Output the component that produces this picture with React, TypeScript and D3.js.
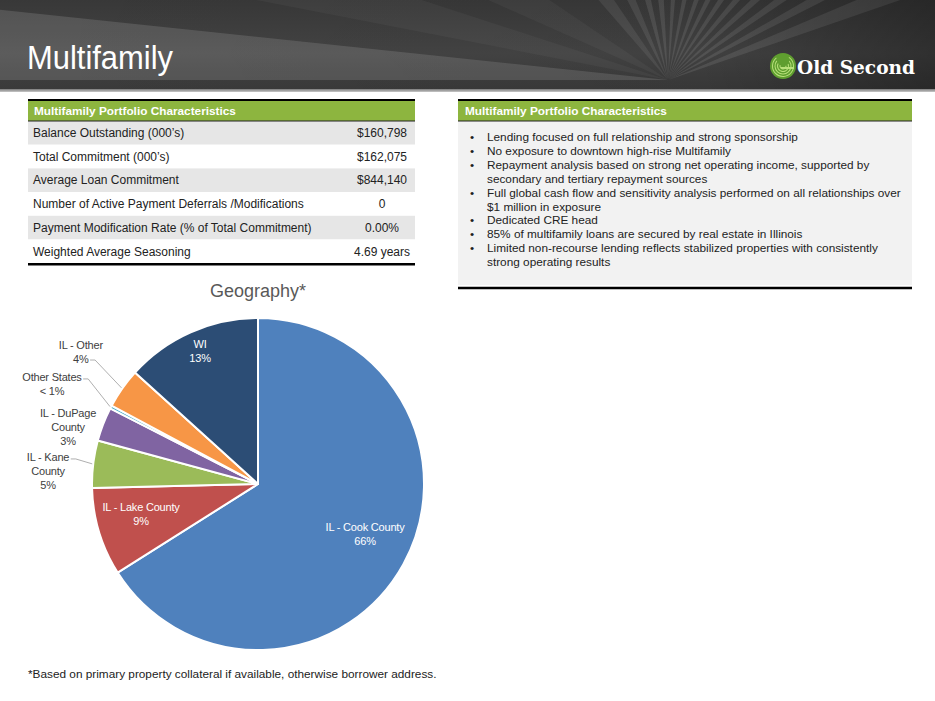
import React, { useEffect, useRef } from 'react';
import * as d3 from 'd3';

// ---------- data ----------
const geoCategories = ['IL - Cook County', 'IL - Lake County', 'IL - Kane County', 'IL - DuPage County', 'Other States', 'IL - Other', 'WI'];
const geoValues = [66.1, 8.6, 4.6, 3.3, 0.3, 3.9, 13.3];
const geoLabelLines = [
  ['IL - Cook County', '66%'],
  ['IL - Lake County', '9%'],
  ['IL - Kane', 'County', '5%'],
  ['IL - DuPage', 'County', '3%'],
  ['Other States', '< 1%'],
  ['IL - Other', '4%'],
  ['WI', '13%'],
];
const geoColors = ['#4F81BD', '#C0504D', '#9BBB59', '#8064A2', '#4BACC6', '#F79646', '#2C4D75'];

const tableTitle = 'Multifamily Portfolio Characteristics';
const tableLabels = [
  'Balance Outstanding (000\u2019s)',
  'Total Commitment (000\u2019s)',
  'Average Loan Commitment',
  'Number of Active Payment Deferrals /Modifications',
  'Payment Modification Rate (% of Total Commitment)',
  'Weighted Average Seasoning',
];
const tableValues = ['$160,798', '$162,075', '$844,140', '0', '0.00%', '4.69 years'];

const bulletTitle = 'Multifamily Portfolio Characteristics';
const bulletItems = [
  ['Lending focused on full relationship and strong sponsorship'],
  ['No exposure to downtown high-rise Multifamily'],
  ['Repayment analysis based on strong net operating income, supported by', 'secondary and tertiary repayment sources'],
  ['Full global cash flow and sensitivity analysis performed on all relationships over', '$1 million in exposure'],
  ['Dedicated CRE head'],
  ['85% of multifamily loans are secured by real estate in Illinois'],
  ['Limited non-recourse lending reflects stabilized properties with consistently', 'strong operating results'],
];

const pageTitle = 'Multifamily';
const chartTitle = 'Geography*';
const footnote = '*Based on primary property collateral if available, otherwise borrower address.';
const logoText = 'Old Second';

// ---------- layout (not data) ----------
const W = 935;
const H = 701;
const FONT = "'Liberation Sans', Arial, sans-serif";
const pieCx = 258;
const pieCy = 484;
const pieR = 166;
const labelLayout = [
  { r: 119.5, dx: 2.4, dy: -7.7, inside: true, leader: -1 },
  { r: 119.5, dx: -2.6, dy: -4.5, inside: true, leader: -1 },
  { r: 212, dx: 0.5, dy: 13, inside: false, leader: 0 },
  { r: 200, dx: -3.4, dy: 15, inside: false, leader: -1 },
  { r: 230, dx: -2.2, dy: 7, inside: false, leader: 0 },
  { r: 220, dx: 2.7, dy: -5.8, inside: false, leader: 1 },
  { r: 143, dx: 0, dy: -2, inside: true, leader: -1 },
];
// decorative header rays: [startDeg, endDeg, opacity]
const rayBands = [
  [19, 23, 0.1], [27, 30, 0.1], [34, 37, 0.1], [41, 44, 0.1], [48, 51, 0.1], [55, 58, 0.1], [62, 65, 0.1],
  [69, 72, 0.1], [77, 80, 0.1], [85, 88, 0.1], [93, 97, 0.1], [102, 106, 0.1], [112, 117, 0.09], [124, 131, 0.08],
  [146, 156, 0.04], [162, 169, 0.04], [174, 180, 0.13],
];

export default function App() {
  const ref = useRef<SVGSVGElement | null>(null);

  useEffect(() => {
    const svg = d3.select(ref.current);
    svg.selectAll('*').remove();

    const defs = svg.append('defs');
    const hg = defs.append('linearGradient').attr('id', 'hdrShade').attr('x1', 0).attr('x2', 1).attr('y1', 0).attr('y2', 0);
    hg.append('stop').attr('offset', '0%').attr('stop-color', '#000').attr('stop-opacity', 0);
    hg.append('stop').attr('offset', '75%').attr('stop-color', '#000').attr('stop-opacity', 0.05);
    hg.append('stop').attr('offset', '100%').attr('stop-color', '#000').attr('stop-opacity', 0.3);
    const vg = defs.append('linearGradient').attr('id', 'hdrV').attr('x1', 0).attr('x2', 0).attr('y1', 0).attr('y2', 1);
    vg.append('stop').attr('offset', '0%').attr('stop-color', '#383838');
    vg.append('stop').attr('offset', '60%').attr('stop-color', '#444444');
    vg.append('stop').attr('offset', '100%').attr('stop-color', '#3a3a3a');
    const sg = defs.append('linearGradient').attr('id', 'strip').attr('x1', 0).attr('x2', 0).attr('y1', 0).attr('y2', 1);
    sg.append('stop').attr('offset', '0%').attr('stop-color', '#7a7a7a');
    sg.append('stop').attr('offset', '100%').attr('stop-color', '#c8c8c8');
    defs.append('clipPath').attr('id', 'hdrClip').append('rect').attr('x', 0).attr('y', 0).attr('width', W).attr('height', 89);

    // ---- header ----
    const hdr = svg.append('g').attr('clip-path', 'url(#hdrClip)');
    hdr.append('rect').attr('x', 0).attr('y', 0).attr('width', W).attr('height', 89).attr('fill', 'url(#hdrV)');
    const cx0 = 668, cy0 = 80, far = 1600;
    const rad = (d: number) => (d * Math.PI) / 180;
    rayBands.forEach(([a0, a1, op]) => {
      const p0 = [cx0 + far * Math.cos(rad(a0)), cy0 - far * Math.sin(rad(a0))];
      const p1 = [cx0 + far * Math.cos(rad(a1)), cy0 - far * Math.sin(rad(a1))];
      hdr.append('path')
        .attr('d', `M${cx0},${cy0}L${p0[0]},${p0[1]}L${p1[0]},${p1[1]}Z`)
        .attr('fill', '#ffffff')
        .attr('opacity', op);
    });
    hdr.append('rect').attr('x', 0).attr('y', 0).attr('width', W).attr('height', 89).attr('fill', 'url(#hdrShade)');
    svg.append('rect').attr('x', 0).attr('y', 89).attr('width', W).attr('height', 3).attr('fill', 'url(#strip)');

    svg.append('text').attr('x', 27).attr('y', 69).attr('fill', '#ffffff')
      .attr('font-family', "'Liberation Sans Narrow', 'Liberation Sans', Arial, sans-serif").attr('font-size', 34)
      .attr('textLength', 146).attr('lengthAdjust', 'spacingAndGlyphs')
      .text(pageTitle);

    // logo
    const logo = svg.append('g').attr('transform', 'translate(783,66)');
    logo.append('circle').attr('r', 13).attr('fill', '#5f9e2f');
    [11, 8.5, 6, 3.5].forEach((rr, i) => {
      logo.append('path')
        .attr('d', d3.arc()({ innerRadius: rr - 1, outerRadius: rr, startAngle: 0.6 + i * 0.3, endAngle: 5.6 - i * 0.2 }) as string)
        .attr('fill', '#b8e07a');
    });
    logo.append('rect').attr('x', -2).attr('y', 1).attr('width', 13).attr('height', 2).attr('fill', '#b8e07a');
    svg.append('text').attr('x', 797).attr('y', 74).attr('fill', '#ffffff')
      .attr('font-family', "'DejaVu Serif', 'Liberation Serif', serif").attr('font-weight', 'bold').attr('font-size', 19)
      .attr('textLength', 118).attr('lengthAdjust', 'spacingAndGlyphs')
      .text(logoText);

    // ---- table ----
    const tX = 28, tW = 387, tTop = 100, headH = 21, rowH = 23.7;
    const rowsTop = tTop + headH;
    const yRow = d3.scaleBand<number>().domain(d3.range(tableLabels.length)).range([rowsTop, rowsTop + rowH * tableLabels.length]);
    const tbl = svg.append('g');
    tbl.append('rect').attr('x', tX).attr('y', tTop).attr('width', tW).attr('height', headH).attr('fill', '#8DB53F');
    tbl.append('text').attr('x', tX + 6).attr('y', tTop + 15).attr('fill', '#fff').attr('font-family', FONT)
      .attr('font-weight', 'bold').attr('font-size', 11.8).text(tableTitle);
    tableLabels.forEach((lab, i) => {
      const y = yRow(i) as number;
      tbl.append('rect').attr('x', tX).attr('y', y).attr('width', tW).attr('height', yRow.bandwidth())
        .attr('fill', i % 2 === 0 ? '#E6E6E6' : '#FFFFFF');
      tbl.append('text').attr('x', tX + 5).attr('y', y + 16).attr('fill', '#222').attr('font-family', FONT)
        .attr('font-size', 12).text(lab);
      tbl.append('text').attr('x', 382).attr('y', y + 16).attr('fill', '#222').attr('font-family', FONT)
        .attr('font-size', 12).attr('text-anchor', 'middle').text(tableValues[i]);
    });
    tbl.append('line').attr('x1', tX).attr('x2', tX + tW).attr('y1', tTop).attr('y2', tTop).attr('stroke', '#000').attr('stroke-width', 2.2);
    tbl.append('line').attr('x1', tX).attr('x2', tX + tW).attr('y1', rowsTop).attr('y2', rowsTop).attr('stroke', '#222').attr('stroke-width', 1);
    const tBottom = rowsTop + rowH * tableLabels.length;
    tbl.append('line').attr('x1', tX).attr('x2', tX + tW).attr('y1', tBottom + 1).attr('y2', tBottom + 1).attr('stroke', '#000').attr('stroke-width', 2.5);

    // ---- bullets panel ----
    const bX = 458, bW = 454, bBodyBottom = 285;
    const bp = svg.append('g');
    bp.append('rect').attr('x', bX).attr('y', rowsTop).attr('width', bW).attr('height', bBodyBottom - rowsTop).attr('fill', '#F2F2F2');
    bp.append('rect').attr('x', bX).attr('y', tTop).attr('width', bW).attr('height', headH).attr('fill', '#8DB53F');
    bp.append('text').attr('x', bX + 7).attr('y', tTop + 15).attr('fill', '#fff').attr('font-family', FONT)
      .attr('font-weight', 'bold').attr('font-size', 11.8).text(bulletTitle);
    bp.append('line').attr('x1', bX).attr('x2', bX + bW).attr('y1', tTop).attr('y2', tTop).attr('stroke', '#000').attr('stroke-width', 2.2);
    bp.append('line').attr('x1', bX).attr('x2', bX + bW).attr('y1', rowsTop).attr('y2', rowsTop).attr('stroke', '#222').attr('stroke-width', 1);
    bp.append('line').attr('x1', bX).attr('x2', bX + bW).attr('y1', bBodyBottom + 3).attr('y2', bBodyBottom + 3).attr('stroke', '#000').attr('stroke-width', 2.5);
    let ln = 0;
    const lh = 13.9;
    const firstBase = 141;
    bulletItems.forEach((lines) => {
      bp.append('text').attr('x', 470).attr('y', firstBase + ln * lh).attr('fill', '#222').attr('font-family', FONT)
        .attr('font-size', 11.8).text('\u2022');
      lines.forEach((l) => {
        bp.append('text').attr('x', 487).attr('y', firstBase + ln * lh).attr('fill', '#222').attr('font-family', FONT)
          .attr('font-size', 11.8).text(l);
        ln += 1;
      });
    });

    // ---- pie ----
    svg.append('text').attr('x', pieCx).attr('y', 297).attr('text-anchor', 'middle').attr('fill', '#595959')
      .attr('font-family', FONT).attr('font-size', 18).text(chartTitle);

    const pie = d3.pie<number>().sort(null).value((d) => d);
    const arcs = pie(geoValues);
    const arcGen = d3.arc<d3.PieArcDatum<number>>().innerRadius(0).outerRadius(pieR);
    const pg = svg.append('g').attr('transform', `translate(${pieCx},${pieCy})`);
    pg.selectAll('path.slice').data(arcs).enter().append('path')
      .attr('class', 'slice')
      .attr('d', arcGen as any)
      .attr('fill', (_d, i) => geoColors[i])
      .attr('stroke', '#fff').attr('stroke-width', 2).attr('stroke-linejoin', 'round');

    const lineH = 14;
    arcs.forEach((a, i) => {
      const L = labelLayout[i];
      const mid = (a.startAngle + a.endAngle) / 2;
      const ax = L.r * Math.sin(mid) + L.dx;
      const ay = -L.r * Math.cos(mid) + L.dy;
      const lines = geoLabelLines[i];
      const n = lines.length;
      const g = pg.append('g');
      const texts: SVGTextElement[] = [];
      lines.forEach((t, k) => {
        const base = ay - ((n - 1) * lineH) / 2 + k * lineH + 4;
        const te = g.append('text').attr('x', ax).attr('y', base).attr('text-anchor', 'middle')
          .attr('fill', L.inside ? '#ffffff' : '#404040')
          .attr('font-family', FONT).attr('font-size', 11).attr('letter-spacing', -0.2).text(t);
        texts.push(te.node() as SVGTextElement);
      });
      if (L.leader >= 0) {
        const k = L.leader;
        const w = texts[k].getComputedTextLength();
        const base = ay - ((n - 1) * lineH) / 2 + k * lineH + 4;
        const sx = ax + w / 2 + 1.5;
        const sy = base - 2.5;
        const ex = (pieR + 1) * Math.sin(mid);
        const ey = -(pieR + 1) * Math.cos(mid);
        pg.append('path')
          .attr('d', d3.line()([[sx, sy], [sx + 5, sy], [ex, ey]]) as string)
          .attr('fill', 'none').attr('stroke', '#a6a6a6').attr('stroke-width', 0.9);
      }
    });

    svg.append('text').attr('x', 28).attr('y', 678).attr('fill', '#222').attr('font-family', FONT)
      .attr('font-size', 11.8).text(footnote);
  }, []);

  return (
    <svg ref={ref} width={W} height={H} viewBox={`0 0 ${W} ${H}`}
      style={{ position: 'absolute', left: 0, top: 0, background: '#ffffff' }} />
  );
}
